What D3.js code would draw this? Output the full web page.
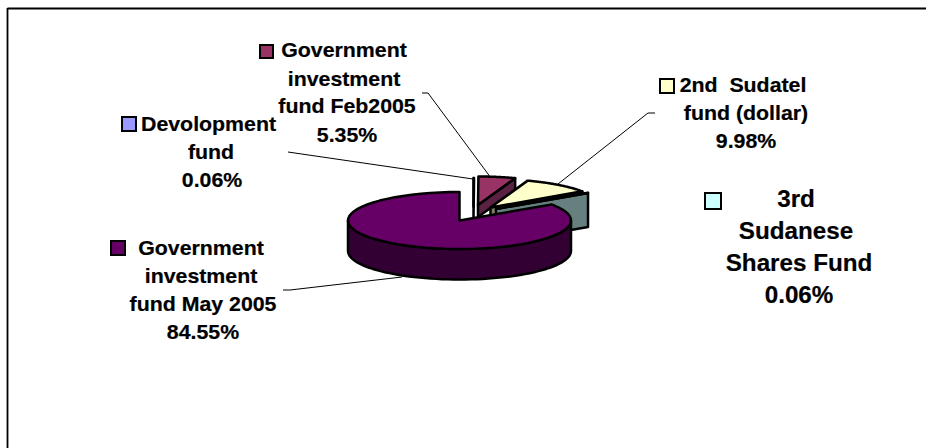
<!DOCTYPE html>
<html>
<head>
<meta charset="utf-8">
<script src="https://cdn.jsdelivr.net/npm/d3@7"></script>
<style>
  html, body { margin: 0; padding: 0; background: #fff; }
  svg { display: block; }
  text { font-family: "Liberation Sans", Arial, sans-serif; font-weight: bold; fill: #000; stroke: #000; stroke-width: 0.2px; }
</style>
</head>
<body>
<svg id="chart" width="926" height="448"></svg>
<script>
// Fund shares, in percent, clockwise from twelve o'clock
const funds = ["Devolopment fund", "Government investment fund Feb2005", "2nd Sudatel fund (dollar)", "3rd Sudanese Shares Fund", "Government investment fund May 2005"];
const shares = [0.06, 5.35, 9.98, 0.06, 84.55];
const labelLines = [
  ["Devolopment", "fund"],
  ["Government", "investment", "fund Feb2005"],
  ["2nd  Sudatel", "fund (dollar)"],
  ["3rd", "Sudanese", "Shares Fund"],
  ["Government", "investment", "fund May 2005"]
];
const topColors = ["#9999ff", "#993366", "#ffffcc", "#ccffff", "#660066"];
const sideColors = ["#4d4d80", "#5a2142", "#808066", "#668080", "#330033"];

// Pie projection and per-slice placement
const cx = 459.5, cy = 220.5, rx = 111.5, ry = 28.5;
const explode = [[14, -14], [18.5, -15.5], [31, -13], [36.5, -11.5], [0, 0]];
const depth = [12, 12, 12, 34, 30.5];

// Label placement: line centres, baselines, legend key box, type size, horizontal stretch
const labelStyle = [
  { xs: [208.5, 211, 212], ys: [131, 159, 187], key: [121, 116, 16], size: 20.5, sx: 1.04 },
  { xs: [344, 344, 347, 347], ys: [57, 85.5, 113, 141.5], key: [259, 44, 15], size: 20.5, sx: 1.04 },
  { xs: [743, 746, 746], ys: [92, 120, 148], key: [659, 78, 16], size: 20.5, sx: 1.04 },
  { xs: [796, 796, 799, 799], ys: [207, 239, 271, 303], key: [704, 192, 18], size: 23.5, sx: 1.03 },
  { xs: [201, 201, 203, 203], ys: [255, 283, 311, 339], key: [110, 240, 16], size: 20.5, sx: 1.04 }
];
const leaders = [
  [[288, 152], [473, 179]],
  [[422, 93], [428, 93], [491, 178]],
  [[655, 113], [648, 113], [558, 184]],
  null,
  [[283, 290], [290, 290], [402, 277]]
];

const svg = d3.select("#chart");
const pct = d3.format(".2f");

// Frame: only the top and left rules are present
svg.append("line").attr("x1", 7.5).attr("y1", 8.5).attr("x2", 926).attr("y2", 8.5)
  .attr("stroke", "#000").attr("stroke-width", 1.8);
svg.append("line").attr("x1", 7.5).attr("y1", 8).attr("x2", 7.5).attr("y2", 448)
  .attr("stroke", "#000").attr("stroke-width", 1.8);

const pie = d3.pie().sort(null).startAngle(0).endAngle(2 * Math.PI);
const arcs = pie(shares);

const lineGen = d3.line();
const project = (i, a, r = 1, drop = 0) => [
  cx + explode[i][0] + r * rx * Math.sin(a),
  cy + explode[i][1] - r * ry * Math.cos(a) + drop
];
const sweep = (i, a0, a1, drop = 0) =>
  d3.range(0, 61).map(k => project(i, a0 + (a1 - a0) * k / 60, 1, drop));

// Leader lines sit behind the pie
svg.append("g").selectAll("path")
  .data(leaders.filter(Boolean))
  .join("path")
  .attr("d", d => lineGen(d))
  .attr("fill", "none").attr("stroke", "#000").attr("stroke-width", 1);

const pieGroup = svg.append("g")
  .attr("stroke", "#000").attr("stroke-width", 2.5).attr("stroke-linejoin", "round");

arcs.forEach((d, i) => {
  const a0 = d.startAngle, a1 = d.endAngle;
  const h = depth[i];
  const apex = project(i, 0, 0);
  const apexLow = project(i, 0, 0, h);

  if (i === funds.length - 1) {
    // Front wall of the largest slice, between the two ends of the visible rim
    const from = Math.max(a0, Math.PI / 2), to = Math.min(a1, 3 * Math.PI / 2);
    const wall = sweep(i, from, to).concat(sweep(i, to, from, h));
    pieGroup.append("path").attr("d", lineGen(wall) + "Z").attr("fill", sideColors[i]);
  } else {
    // Exposed cut face along the trailing radius of the exploded slice
    const end = project(i, a1), endLow = project(i, a1, 1, h);
    pieGroup.append("path")
      .attr("d", lineGen([apex, end, endLow, apexLow]) + "Z")
      .attr("fill", sideColors[i]);
  }

  const top = [apex].concat(sweep(i, a0, a1));
  pieGroup.append("path").attr("d", lineGen(top) + "Z").attr("fill", topColors[i]);
});

// Labels with their legend keys
const labels = svg.append("g");
funds.forEach((name, i) => {
  const st = labelStyle[i];
  const lines = labelLines[i].concat(pct(shares[i]) + "%");
  lines.forEach((t, j) => {
    labels.append("text")
      .attr("transform", `translate(${st.xs[j]},${st.ys[j]}) scale(${st.sx},1)`)
      .attr("text-anchor", "middle")
      .attr("font-size", st.size)
      .style("white-space", "pre")
      .text(t);
  });
  labels.append("rect")
    .attr("x", st.key[0] + 1).attr("y", st.key[1] + 1)
    .attr("width", st.key[2] - 2).attr("height", st.key[2] - 2)
    .attr("fill", topColors[i]).attr("stroke", "#000").attr("stroke-width", 2);
});
</script>
</body>
</html>
